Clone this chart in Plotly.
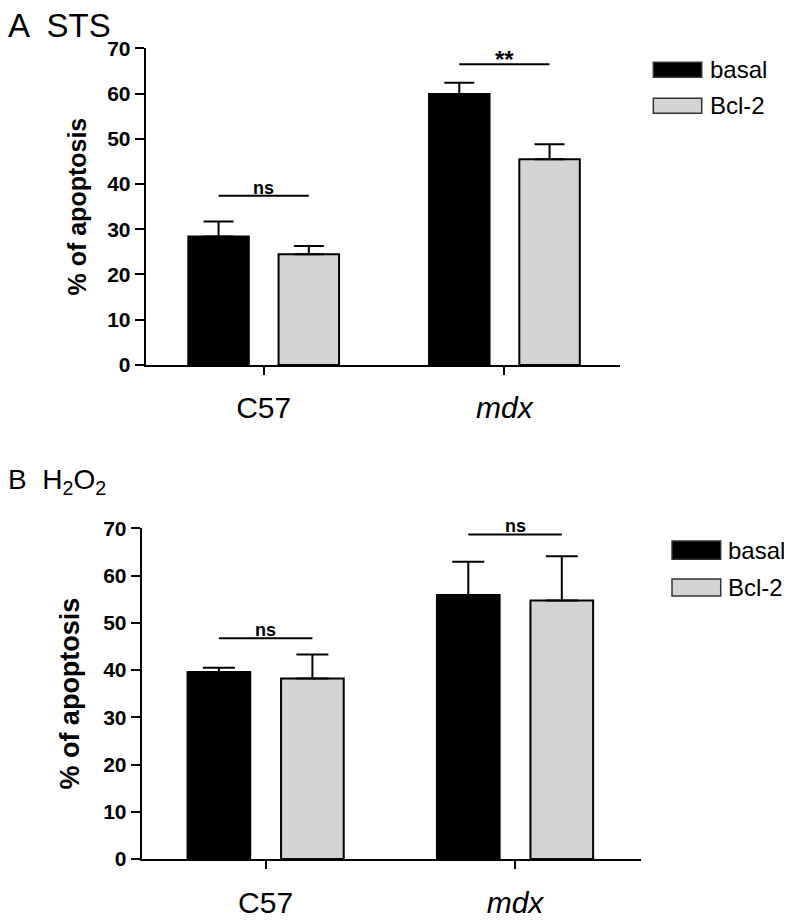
import plotly.graph_objects as go

FONT = "Liberation Sans"

categories = ["C57", "mdx"]
tick_text = ["C57", "<i>mdx</i>"]
series_names = ["basal", "Bcl-2"]
series_colors = ["#000000", "#d3d3d3"]

# Panel A: STS
sts_basal = [28.4, 59.9]
sts_basal_err = [3.3, 2.5]
sts_bcl2 = [24.5, 45.5]
sts_bcl2_err = [1.8, 3.3]
sts_sig_y = [37.4, 66.5]
sts_sig_text = ["ns", "**"]

# Panel B: H2O2
h2o2_basal = [39.6, 55.9]
h2o2_basal_err = [0.9, 7.0]
h2o2_bcl2 = [38.2, 54.7]
h2o2_bcl2_err = [5.1, 9.4]
h2o2_sig_y = [46.7, 68.7]
h2o2_sig_text = ["ns", "ns"]

y_ticks = [0, 10, 20, 30, 40, 50, 60, 70]

BARGAP = 0.25
BARGROUPGAP = 0.33
slot = (1 - BARGAP) / 2

fig = go.Figure()

panels = [
    dict(vals=[sts_basal, sts_bcl2], errs=[sts_basal_err, sts_bcl2_err],
         sig_y=sts_sig_y, sig_text=sts_sig_text, xa="x", ya="y", capw=15),
    dict(vals=[h2o2_basal, h2o2_bcl2], errs=[h2o2_basal_err, h2o2_bcl2_err],
         sig_y=h2o2_sig_y, sig_text=h2o2_sig_text, xa="x2", ya="y2", capw=16),
]

for p in panels:
    for name, color, vals, errs in zip(series_names, series_colors, p["vals"], p["errs"]):
        fig.add_trace(go.Bar(
            x=categories, y=vals, name=name, xaxis=p["xa"], yaxis=p["ya"],
            marker=dict(color=color, line=dict(color="black", width=2)),
            error_y=dict(type="data", symmetric=False, array=errs,
                         arrayminus=[0] * len(errs), color="black",
                         thickness=2, width=p["capw"]),
            showlegend=False,
        ))
    for i, (yv, txt) in enumerate(zip(p["sig_y"], p["sig_text"])):
        fig.add_shape(type="line", xref=p["xa"], yref=p["ya"],
                      x0=i - slot / 2, x1=i + slot / 2, y0=yv, y1=yv,
                      line=dict(color="black", width=2))
        is_ns = txt == "ns"
        fig.add_annotation(xref=p["xa"], yref=p["ya"], x=i, y=yv, text=txt,
                           showarrow=False, yanchor="bottom", yshift=-4 if is_ns else -11,
                           font=dict(family=FONT, size=18 if is_ns else 24,
                                     color="black", weight="bold"))

axis_common = dict(showline=True, linewidth=2, linecolor="black", ticks="outside",
                   tickwidth=2, tickcolor="black", showgrid=False, zeroline=False,
                   automargin=False)

fig.update_layout(
    template="none",
    width=792, height=920,
    margin=dict(l=0, r=0, t=0, b=0, pad=0),
    paper_bgcolor="white", plot_bgcolor="white",
    barmode="group", bargap=BARGAP, bargroupgap=BARGROUPGAP,
    showlegend=False,
    font=dict(family=FONT, color="black"),
    xaxis=dict(domain=[0.1739, 0.7727], anchor="y", type="category",
               range=[-0.49, 1.48], tickvals=categories, ticktext=tick_text,
               ticklen=8, ticklabelstandoff=7,
               tickfont=dict(family=FONT, size=30, color="black"), **axis_common),
    yaxis=dict(domain=[0.6120, 0.9562], anchor="x", range=[0, 70], tickvals=y_ticks,
               ticklen=9, tickfont=dict(family=FONT, size=21, color="black", weight="bold"),
               title=dict(text="% of apoptosis", standoff=13,
                          font=dict(family=FONT, size=25, color="black", weight="bold")),
               **axis_common),
    xaxis2=dict(domain=[0.1688, 0.7989], anchor="y2", type="category",
                range=[-0.497, 1.504], tickvals=categories, ticktext=tick_text,
                ticklen=8, ticklabelstandoff=8,
                tickfont=dict(family=FONT, size=30, color="black"), **axis_common),
    yaxis2=dict(domain=[0.0750, 0.4345], anchor="x2", range=[0, 70], tickvals=y_ticks,
                ticklen=9, tickfont=dict(family=FONT, size=21, color="black", weight="bold"),
                title=dict(text="% of apoptosis", standoff=16,
                           font=dict(family=FONT, size=27, color="black", weight="bold")),
                **axis_common),
)

# Panel titles
fig.add_annotation(xref="paper", yref="paper", x=0.0, y=1.0, xanchor="left", yanchor="top",
                   text="A  STS", showarrow=False, yshift=3, xshift=-2,
                   font=dict(family=FONT, size=33, color="black"))
fig.add_annotation(xref="paper", yref="paper", x=0.0, y=0.5032, xanchor="left", yanchor="top",
                   text="B  H<sub>2</sub>O<sub>2</sub>", showarrow=False, xshift=-2, yshift=3,
                   font=dict(family=FONT, size=28, color="black"))

# Manual legends (large swatches as in reference)
legends = [
    dict(x0=0.8148, x1=0.8759, rows=[(0.9410, 0.9247), (0.9018, 0.8855)], tx=0.8838),
    dict(x0=0.8384, x1=0.8999, rows=[(0.4207, 0.4008), (0.3793, 0.3609)], tx=0.9066),
]
for lg in legends:
    for (ytop, ybot), name, color in zip(lg["rows"], series_names, series_colors):
        fig.add_shape(type="rect", xref="paper", yref="paper",
                      x0=lg["x0"], x1=lg["x1"], y0=ybot, y1=ytop,
                      fillcolor=color, line=dict(color="#333333", width=1.5))
        fig.add_annotation(xref="paper", yref="paper", x=lg["tx"], y=(ytop + ybot) / 2,
                           xanchor="left", yanchor="middle", text=name, showarrow=False,
                           font=dict(family=FONT, size=24, color="black"))

fig.write_html("out.html")
